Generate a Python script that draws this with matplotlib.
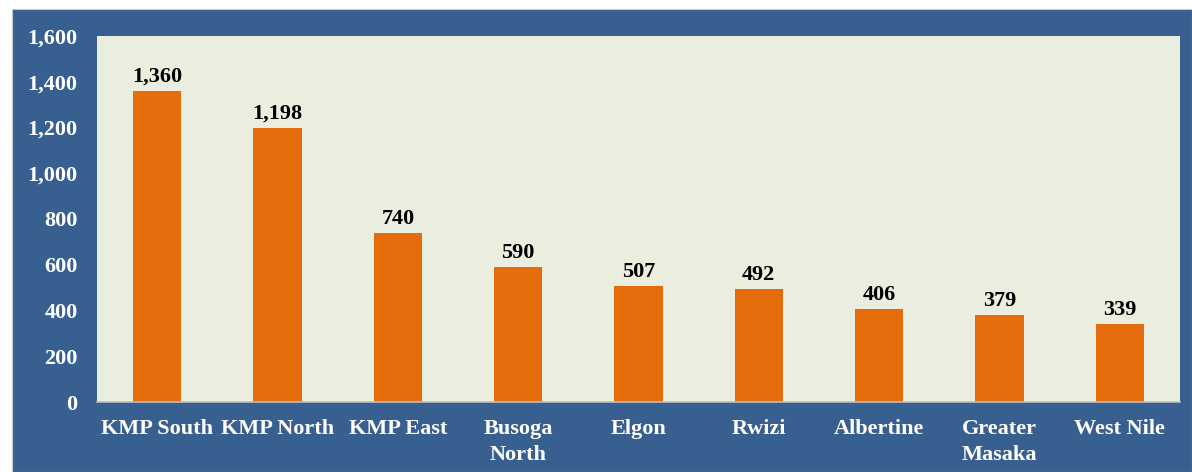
import matplotlib
matplotlib.use("Agg")
import matplotlib.pyplot as plt
from matplotlib.patches import Rectangle
from matplotlib.ticker import FuncFormatter
from matplotlib.font_manager import FontProperties

categories = ["KMP South", "KMP North", "KMP East", "Busoga\nNorth", "Elgon",
              "Rwizi", "Albertine", "Greater\nMasaka", "West Nile"]
values = [1360, 1198, 740, 590, 507, 492, 406, 379, 339]
yticks = [0, 200, 400, 600, 800, 1000, 1200, 1400, 1600]

W, H = 1192, 472
fig = plt.figure(figsize=(W / 100, H / 100), dpi=100)
fig.patch.set_facecolor("white")

blue = "#375F8F"
bg = Rectangle((12 / W, 0), 1 - 12 / W, 1 - 9 / H,
               transform=fig.transFigure, facecolor=blue,
               edgecolor="#C8C8C8", linewidth=0.8, zorder=-10)
fig.patches.append(bg)

ax = fig.add_axes([97 / W, 1 - 402 / H, (1180 - 97) / W, (402 - 36) / H])
ax.set_zorder(5)
ax.set_facecolor("#EAEEDF")
x = list(range(len(categories)))
ax.bar(x, values, width=0.4, color="#E46C0A", zorder=2)
ax.set_xlim(-0.5, len(categories) - 0.5)
ax.set_ylim(0, 1600)
ax.set_yticks(yticks)
ax.yaxis.set_major_formatter(FuncFormatter(lambda v, p: f"{int(v):,}"))
ax.set_xticks(x)
ax.set_xticklabels(categories, va="top", linespacing=1.45)

font = dict(family="Liberation Serif", weight="bold", size=16)
fp = FontProperties(**font)
for lab in ax.get_yticklabels():
    lab.set_fontproperties(fp)
    lab.set_color("white")
for lab in ax.get_xticklabels():
    lab.set_fontproperties(fp)
    lab.set_color("white")
ax.tick_params(axis="y", length=0, pad=14)
ax.tick_params(axis="x", length=0, pad=12)

for s in ["left", "top", "right"]:
    ax.spines[s].set_visible(False)
ax.spines["bottom"].set_color("#BFBFBF")
ax.spines["bottom"].set_linewidth(1.2)

for xi, v in zip(x, values):
    ax.annotate(f"{v:,}", (xi, v), xytext=(0, 3), textcoords="offset points",
                ha="center", va="bottom", color="black", fontproperties=fp)

fig.savefig("out.png", dpi=100, facecolor=fig.get_facecolor())
